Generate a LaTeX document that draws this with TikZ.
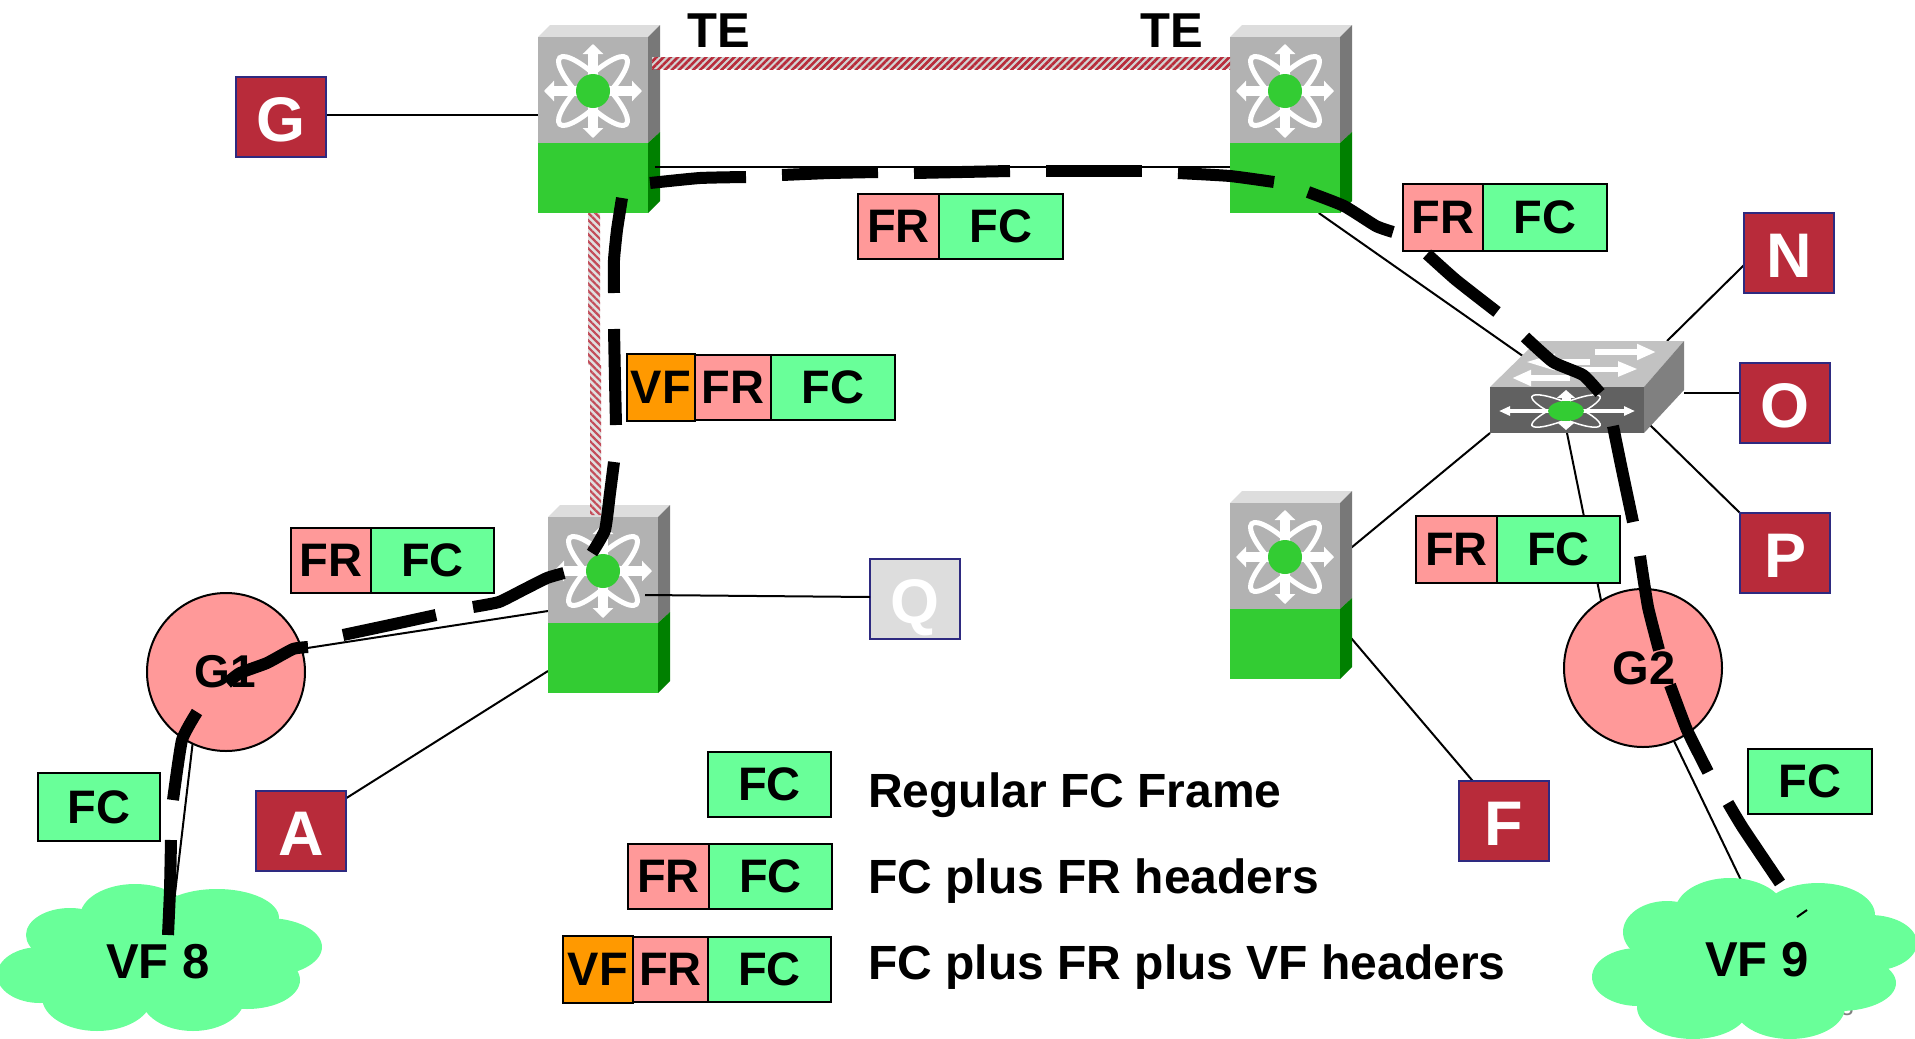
\documentclass[tikz,border=0pt]{standalone}
\usepackage{fontspec}
\setmainfont{Liberation Sans}
\usepackage{xcolor}
\usepackage{tikz}
\usetikzlibrary{shapes.geometric, arrows.meta, backgrounds, positioning, patterns.meta}
\definecolor{lightred}{HTML}{FF9999}
\definecolor{lightgreen}{HTML}{69FF99}
\definecolor{hdrorange}{HTML}{FF9900}
\definecolor{hostred}{HTML}{B82B3A}
\definecolor{hostblue}{HTML}{2E2A80}
\definecolor{swgreen}{HTML}{33CC33}
\tikzstyle{hdr} = [rectangle, draw = black, line width = 2.5pt, minimum height = 65pt, inner sep = 0pt, outer sep = 0pt, font = \fontsize{47}{47}\selectfont\bfseries]
\tikzstyle{frbox} = [hdr, fill = lightred, anchor = north west]
\tikzstyle{fcbox} = [hdr, fill = lightgreen, anchor = north west]
\tikzstyle{vfbox} = [hdr, fill = hdrorange, anchor = north west, minimum height = 67pt]
\tikzstyle{host} = [rectangle, draw = hostblue, line width = 2.5pt, fill = hostred, text = white, minimum width = 90pt, minimum height = 80pt, text height = 48pt, text depth = 0pt, inner sep = 0pt, outer sep = 0pt, font = \fontsize{63}{63}\selectfont\bfseries]
\tikzstyle{gateway} = [circle, draw = black, line width = 2pt, fill = lightred, minimum size = 158pt, inner sep = 0pt, outer sep = 0pt, font = \fontsize{47}{47}\selectfont\bfseries]
\tikzstyle{link} = [line width = 2pt, black]
\tikzstyle{frameline} = [line width = 12pt, black]
\tikzstyle{hatch} = [pattern = {Lines[angle = 45, distance = 5pt, line width = 2.6pt]}, pattern color = hostred]
\tikzstyle{hatchb} = [pattern = {Lines[angle = -45, distance = 5pt, line width = 2.2pt]}, pattern color = hostred!85]
\tikzstyle{legtext} = [anchor = base west, inner sep = 0pt, font = \fontsize{48}{48}\selectfont\bfseries]
\tikzstyle{bigtext} = [anchor = base west, inner sep = 0pt, font = \fontsize{49}{49}\selectfont\bfseries]
\tikzstyle{cloudtext} = [inner sep = 0pt, font = \fontsize{49}{49}\selectfont\bfseries]
\tikzstyle{starshaft} = [white, line width = 10pt, {Triangle[length = 10pt, width = 20pt]}-{Triangle[length = 10pt, width = 20pt]}]
\newcommand{\mlswitch}[3]{
\begin{scope}[shift = {(#2,#3)}]
\fill[gray!27] (0,0) -- (12,-12) -- (122,-12) -- (110,0) -- cycle ;
\fill[black!53] (110,0) -- (122,-12) -- (122,95) -- (110,106) -- cycle ;
\fill[green!50!black] (110,106) -- (122,95) -- (122,164) -- (110,176) -- cycle ;
\fill[black!30] (0,0) rectangle (110,106) ;
\fill[swgreen] (0,106) rectangle (110,176) ;
\node (#1) [rectangle, minimum width = 110pt, minimum height = 176pt, inner sep = 0pt, outer sep = 0pt] at (55,88) {} ;
\draw[white, line width = 5pt] (55,54) ellipse [x radius = 47, y radius = 13, rotate = 45] ;
\draw[white, line width = 5pt] (55,54) ellipse [x radius = 47, y radius = 13, rotate = -45] ;
\draw[starshaft] (6,54) -- (104,54) ;
\draw[starshaft] (55,7) -- (55,101) ;
\fill[swgreen] (55,54) circle (17) ;
\end{scope}
}
\begin{document}
\begin{tikzpicture}[x = 1pt, y = -1pt]
\useasboundingbox (0,0) rectangle (1915,1039) ;

\node (slideno) [text = gray, font = \fontsize{24}{24}\selectfont] at (1847,1007) {3} ;

\mlswitch{sw1}{538}{37}
\mlswitch{sw2}{1230}{37}
\mlswitch{sw3}{548}{517}
\mlswitch{sw4}{1230}{503}

\fill[black!24] (1490,387) -- (1537,341) -- (1684,341) -- (1644,387) -- cycle ;
\fill[black!50] (1644,387) -- (1684,341) -- (1684,390) -- (1644,433) -- cycle ;
\node (ws) [rectangle, fill = black!62, minimum width = 154pt, minimum height = 46pt, inner sep = 0pt, outer sep = 0pt] at (1567,410) {} ;
\draw[white, line width = 6pt, -{Triangle[length = 19pt, width = 15pt]}] (1595,352) -- (1656,352) ;
\draw[white, line width = 6pt, -{Triangle[length = 30pt, width = 15pt]}] (1590,362) -- (1525,362) ;
\draw[white, line width = 5pt, -{Triangle[length = 20pt, width = 14pt]}] (1580,369) -- (1638,369) ;
\draw[white, line width = 6pt, -{Triangle[length = 19pt, width = 15pt]}] (1570,378) -- (1512,378) ;
\draw[white, line width = 1.5pt] (1566,411) ellipse [x radius = 37, y radius = 8, rotate = 23] ;
\draw[white, line width = 1.5pt] (1566,411) ellipse [x radius = 37, y radius = 8, rotate = -23] ;
\draw[white, line width = 4pt, {Triangle[length = 11pt, width = 9pt]}-{Triangle[length = 11pt, width = 9pt]}] (1499,411) -- (1635,411) ;
\draw[white, line width = 9pt, {Triangle[length = 8pt, width = 18pt]}-{Triangle[length = 8pt, width = 18pt]}] (1566,390) -- (1566,430) ;
\fill[swgreen] (1566,411) ellipse [x radius = 18, y radius = 10] ;

\foreach \cx/\cy/\rx/\ry in {135/917/55/33, 217/918/62/29, 267/947/55/29, 247/980/53/29, 193/997/52/34, 97/997/55/34, 40/975/43/28, 70/935/44/27, 160/960/100/50}
\fill[lightgreen] (\cx,\cy) ellipse [x radius = \rx, y radius = \ry] ;
\foreach \cx/\cy/\rx/\ry in {1730/912/55/34, 1818/915/57/32, 1870/943/47/28, 1840/983/56/28, 1790/1007/55/32, 1693/1007/56/32, 1638/977/46/29, 1667/932/44/31, 1757/957/100/57}
\fill[lightgreen] (\cx,\cy) ellipse [x radius = \rx, y radius = \ry] ;
\node (vf8) [cloudtext] at (158,962) {VF 8} ;
\node (vf9) [cloudtext] at (1757,960) {VF 9} ;

\node (g) [host] at (281,117) {G} ;
\node (a) [host] at (301,831) {A} ;
\node (n) [host] at (1789,253) {N} ;
\node (o) [host] at (1785,403) {O} ;
\node (p) [host] at (1785,553) {P} ;
\node (f) [host] at (1504,821) {F} ;
\node (q) [host, fill = gray!27] at (915,599) {Q} ;

\node (g1) [gateway] at (226,672) {} ;
\node (g2) [gateway] at (1643,668) {} ;
\node (g1t) [font = \fontsize{46}{46}\selectfont\bfseries, inner sep = 0pt] at (225,672) {G1} ;
\node (g2t) [font = \fontsize{47}{47}\selectfont\bfseries, inner sep = 0pt] at (1644,668) {G2} ;

\node (te1) [bigtext] at (687,47) {TE} ;
\node (te2) [bigtext] at (1140,47) {TE} ;

\coordinate (teL) at (652,57) ;
\coordinate (teR) at (1230,69) ;
\fill[gray!35] (teL) rectangle (teR) ;
\fill[hatch] (teL) rectangle (teR) ;
\coordinate (vtA) at (588,213) ;
\coordinate (vtB) at (600,365) ;
\coordinate (vtC) at (590,365) ;
\coordinate (vtD) at (601,515) ;
\fill[gray!25] (vtA) rectangle (vtB) (vtC) rectangle (vtD) ;
\fill[hatchb] (vtA) rectangle (vtB) (vtC) rectangle (vtD) ;

\coordinate (topline) at (655,167) ;
\draw[link] (topline) -- (topline -| sw2.west) ;
\coordinate (sw3q) at (645,595) ;
\draw[link] (sw3q) -- ([yshift = 2pt]q.west) ;

\begin{scope}[on background layer]
\coordinate (wsN) at (1667,341) ;
\coordinate (wsO) at (1684,393) ;
\coordinate (wsP) at (1650,425) ;
\coordinate (sw4ws) at (1340,557) ;
\coordinate (sw4f) at (1340,625) ;
\draw[link] ([yshift = 2pt]g.east) -- ([yshift = 2pt]g.east -| sw1.west) ;
\draw[link] (sw2.291) -- (ws.north) ;
\draw[link] (wsN) -- (n.195) ;
\draw[link] (wsO) -- (wsO -| o.west) ;
\draw[link] (wsP) -- (p.north west) ;
\draw[link] (ws.south west) -- (sw4ws) ;
\draw[link] (ws.south) -- (g2.122) ;
\draw[link] (sw4f) -- (f.128) ;
\draw[link] ([yshift = -6pt]sw3.west) -- (g1.17) ;
\draw[link] ([yshift = -66pt]sw3.west) -- (a.36) ;
\draw[link] (g1.245) -- ([xshift = 11pt]vf8.north) ;
\draw[link] (g2.293) -- ([xshift = 14pt]vf9.north) ;
\end{scope}

\node (lb1) [frbox, minimum width = 81pt] at (858,194) {FR} ;
\node (lb1c) [fcbox, minimum width = 124pt, right = 0pt of lb1] {FC} ;
\node (lb2) [frbox, minimum width = 80pt, minimum height = 67pt] at (1403,184) {FR} ;
\node (lb2c) [fcbox, minimum width = 124pt, minimum height = 67pt, right = 0pt of lb2] {FC} ;
\node (lb3v) [vfbox, minimum width = 68pt] at (627,354) {VF} ;
\node (lb3) [frbox, minimum width = 76pt, right = 0pt of lb3v] {FR} ;
\node (lb3c) [fcbox, minimum width = 124pt, right = 0pt of lb3] {FC} ;
\node (lb4) [frbox, minimum width = 80pt] at (291,528) {FR} ;
\node (lb4c) [fcbox, minimum width = 123pt, right = 0pt of lb4] {FC} ;
\node (lb5) [frbox, minimum width = 81pt, minimum height = 67pt] at (1416,516) {FR} ;
\node (lb5c) [fcbox, minimum width = 123pt, minimum height = 67pt, right = 0pt of lb5] {FC} ;
\node (lb6) [fcbox, minimum width = 122pt, minimum height = 68pt] at (38,773) {FC} ;
\node (lb7) [fcbox, minimum width = 124pt, minimum height = 65pt] at (1748,749) {FC} ;

\node (leg1) [fcbox, minimum width = 123pt] at (708,752) {FC} ;
\node (leg2) [frbox, minimum width = 81pt] at (628,844) {FR} ;
\node (leg2c) [fcbox, minimum width = 123pt, right = 0pt of leg2] {FC} ;
\node (leg3v) [vfbox, minimum width = 70pt] at (563,936) {VF} ;
\node (leg3) [frbox, minimum width = 75pt, right = 0pt of leg3v] {FR} ;
\node (leg3c) [fcbox, minimum width = 123pt, right = 0pt of leg3] {FC} ;
\node (leg1t) [legtext] at (868,807) {Regular FC Frame} ;
\node (leg2t) [legtext] at (868,893) {FC plus FR headers} ;
\node (leg3t) [legtext] at (868,979) {FC plus FR plus VF headers} ;

\draw[frameline] plot [smooth, tension = 0.3] coordinates {(650,183) (700,178) (746,177)} ;
\draw[frameline] plot [smooth, tension = 0.3] coordinates {(782,175) (830,173) (878,172)} ;
\draw[frameline] (914,173) -- (1010,171) ;
\draw[frameline] (1046,171) -- (1142,171) ;
\draw[frameline] plot [smooth, tension = 0.3] coordinates {(1178,173) (1230,176) (1274,182)} ;
\draw[frameline] plot [smooth, tension = 0.3] coordinates {(1308,192) (1344,206) (1376,226) (1393,232)} ;
\draw[frameline] plot [smooth, tension = 0.3] coordinates {(1427,254) (1456,280) (1497,312)} ;
\draw[frameline] plot [smooth, tension = 0.3] coordinates {(1525,337) (1553,362) (1583,375) (1600,393)} ;
\draw[frameline] plot [smooth, tension = 0.3] coordinates {(1613,426) (1622,470) (1633,522)} ;
\draw[frameline] plot [smooth, tension = 0.3] coordinates {(1640,556) (1648,607) (1659,650)} ;
\draw[frameline] plot [smooth, tension = 0.3] coordinates {(1670,685) (1687,730) (1708,772)} ;
\draw[frameline] plot [smooth, tension = 0.3] coordinates {(1728,803) (1743,828) (1780,883)} ;
\draw[line width = 2pt] (1797,917) -- (1807,910) ;
\draw[frameline] plot [smooth, tension = 0.3] coordinates {(622,198) (617,230) (614,260) (614,293)} ;
\draw[frameline] plot [smooth, tension = 0.3] coordinates {(614,329) (615,380) (616,425)} ;
\draw[frameline] plot [smooth, tension = 0.3] coordinates {(614,462) (610,493) (605,530) (592,553)} ;
\draw[frameline] plot [smooth, tension = 0.3] coordinates {(564,573) (547,578) (523,590) (499,602) (473,607)} ;
\draw[frameline] plot [smooth, tension = 0.3] coordinates {(436,615) (390,625) (343,635)} ;
\draw[frameline] plot [smooth, tension = 0.3] coordinates {(308,647) (293,649) (267,663) (240,673) (227,683)} ;
\draw[frameline] plot [smooth, tension = 0.3] coordinates {(197,712) (182,740) (173,800)} ;
\draw[frameline] plot [smooth, tension = 0.3] coordinates {(171,840) (170,890) (168,935)} ;
\end{tikzpicture}
\end{document}
